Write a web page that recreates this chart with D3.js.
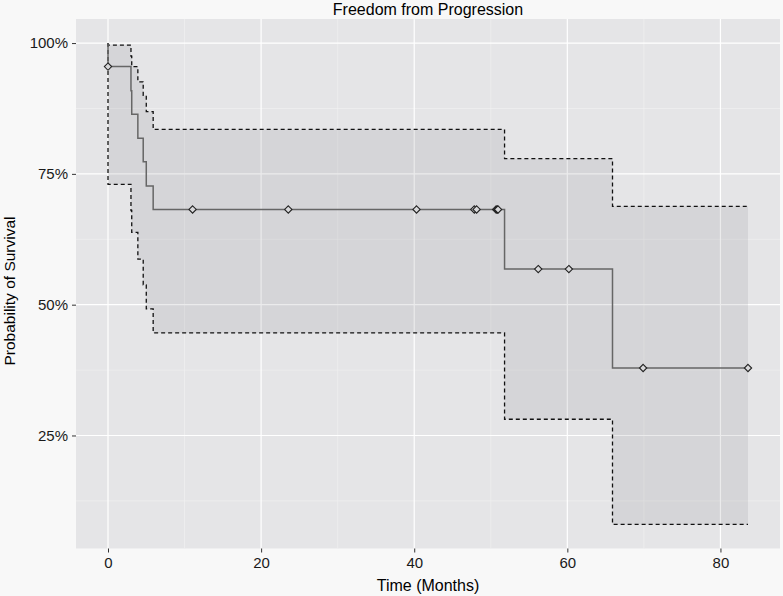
<!DOCTYPE html>
<html>
<head>
<meta charset="utf-8">
<script src="https://cdn.jsdelivr.net/npm/d3@7"></script>
<style>
  html, body { margin: 0; padding: 0; background: #F8F8F8; }
  svg { display: block; font-family: "Liberation Sans", Arial, Helvetica, sans-serif; }
</style>
</head>
<body>
<svg id="chart" width="783" height="596"></svg>
<script>
// ---- Data ----
const eventTimes = [0, 3.0, 3.1, 3.9, 4.6, 5.0, 5.9, 51.8, 65.9];
const survival   = [0.955, 0.909, 0.864, 0.818, 0.773, 0.727, 0.682, 0.568, 0.379];
const upperCI    = [0.996, 0.975, 0.955, 0.926, 0.900, 0.869, 0.835, 0.779, 0.688];
const lowerCI    = [0.730, 0.680, 0.638, 0.587, 0.538, 0.492, 0.446, 0.281, 0.080];
const endTime = 83.6;
const censorTimes = [0, 11.05, 23.55, 40.3, 47.85, 48.15, 50.7, 50.85, 50.95, 56.2, 60.2, 69.9, 83.6];
const xTicks = [0, 20, 40, 60, 80];
const xMinor = [10, 30, 50, 70];
const yTicks = [0.25, 0.5, 0.75, 1.0];
const yMinor = [0.125, 0.375, 0.625, 0.875];
const yTickLabels = ["25%", "50%", "75%", "100%"];
const titleText = "Freedom from Progression";
const xLabel = "Time (Months)";
const yLabel = "Probability of Survival";

// ---- Layout ----
const svg = d3.select("#chart");
const panel = { left: 76, right: 780, top: 19, bottom: 548.5 };

const xMin = Math.min(0, d3.min(eventTimes)), xMax = endTime;
const xPad = (xMax - xMin) * 0.05;
const x = d3.scaleLinear().domain([xMin - xPad, xMax + xPad]).range([panel.left, panel.right]);
const yLo = d3.min(lowerCI), yHi = 1.0;
const yPad = (yHi - yLo) * 0.05;
const y = d3.scaleLinear().domain([yLo - yPad, yHi + yPad]).range([panel.bottom, panel.top]);

function series(vals) {
  const pts = [{t: 0, v: 1}];
  eventTimes.forEach((t, i) => pts.push({t, v: vals[i]}));
  pts.push({t: endTime, v: vals[vals.length - 1]});
  return pts;
}
const kmPts = series(survival);
const upPts = series(upperCI);
const loPts = series(lowerCI);
const bandPts = upPts.map((d, i) => ({t: d.t, hi: d.v, lo: loPts[i].v}));

// panel background
svg.append("rect")
  .attr("x", panel.left).attr("y", panel.top)
  .attr("width", panel.right - panel.left).attr("height", panel.bottom - panel.top)
  .attr("fill", "#E5E5E7");

// grid
const grid = svg.append("g");
grid.selectAll(".xmin").data(xMinor).enter().append("line")
  .attr("x1", d => x(d)).attr("x2", d => x(d))
  .attr("y1", panel.top).attr("y2", panel.bottom)
  .attr("stroke", "#F2F2F2").attr("stroke-width", 0.6);
grid.selectAll(".ymin").data(yMinor).enter().append("line")
  .attr("y1", d => y(d)).attr("y2", d => y(d))
  .attr("x1", panel.left).attr("x2", panel.right)
  .attr("stroke", "#F2F2F2").attr("stroke-width", 0.6);
grid.selectAll(".xmaj").data(xTicks).enter().append("line")
  .attr("x1", d => x(d)).attr("x2", d => x(d))
  .attr("y1", panel.top).attr("y2", panel.bottom)
  .attr("stroke", "#FFFFFF").attr("stroke-width", 1.2);
grid.selectAll(".ymaj").data(yTicks).enter().append("line")
  .attr("y1", d => y(d)).attr("y2", d => y(d))
  .attr("x1", panel.left).attr("x2", panel.right)
  .attr("stroke", "#FFFFFF").attr("stroke-width", 1.2);

// confidence band
const area = d3.area()
  .x(d => x(d.t)).y0(d => y(d.lo)).y1(d => y(d.hi))
  .curve(d3.curveStepAfter);
svg.append("path").datum(bandPts)
  .attr("d", area)
  .attr("fill", "#8A8A90").attr("fill-opacity", 0.17);

const line = d3.line().x(d => x(d.t)).y(d => y(d.v)).curve(d3.curveStepAfter);

// CI lines
[upPts, loPts].forEach(pts => {
  svg.append("path").datum(pts)
    .attr("d", line)
    .attr("fill", "none")
    .attr("stroke", "#111")
    .attr("stroke-width", 1.3)
    .attr("stroke-dasharray", "4,3");
});

// KM curve
svg.append("path").datum(kmPts)
  .attr("d", line)
  .attr("fill", "none")
  .attr("stroke", "#666")
  .attr("stroke-width", 1.5);

// censor marks
function survAt(t) {
  let v = 1;
  eventTimes.forEach((et, i) => { if (et <= t) v = survival[i]; });
  return v;
}
const diamond = d3.symbol().type(d3.symbolDiamond2).size(34);
svg.selectAll(".cens").data(censorTimes).enter().append("path")
  .attr("d", diamond)
  .attr("transform", d => `translate(${x(d)},${y(survAt(d))})`)
  .attr("fill", "#D8D8DA")
  .attr("stroke", "#222")
  .attr("stroke-width", 1.1);

// axes
const xAxis = d3.axisBottom(x).tickValues(xTicks).tickSize(4).tickPadding(5).tickFormat(d3.format("d"));
const gx = svg.append("g").attr("transform", `translate(0,${panel.bottom})`).call(xAxis);
gx.select(".domain").remove();
gx.selectAll(".tick line").attr("stroke", "#333");
gx.selectAll(".tick text").attr("fill", "#1A1A1A").style("font-size", "15px")
  .style("font-family", "'Liberation Sans', Arial, sans-serif");

const yAxis = d3.axisLeft(y).tickValues(yTicks).tickSize(4).tickPadding(4)
  .tickFormat((d, i) => yTickLabels[i]);
const gy = svg.append("g").attr("transform", `translate(${panel.left},0)`).call(yAxis);
gy.select(".domain").remove();
gy.selectAll(".tick line").attr("stroke", "#333");
gy.selectAll(".tick text").attr("fill", "#1A1A1A").style("font-size", "15px")
  .style("font-family", "'Liberation Sans', Arial, sans-serif");

// titles
const cx = (panel.left + panel.right) / 2;
svg.append("text").attr("x", cx).attr("y", 15)
  .attr("text-anchor", "middle").attr("fill", "#000")
  .style("font-size", "16px").text(titleText);
svg.append("text").attr("x", cx).attr("y", 591)
  .attr("text-anchor", "middle").attr("fill", "#000")
  .style("font-size", "16px").text(xLabel);
svg.append("text")
  .attr("transform", `translate(15,${291}) rotate(-90)`)
  .attr("text-anchor", "middle").attr("fill", "#000")
  .style("font-size", "15.5px").text(yLabel);
</script>
</body>
</html>
